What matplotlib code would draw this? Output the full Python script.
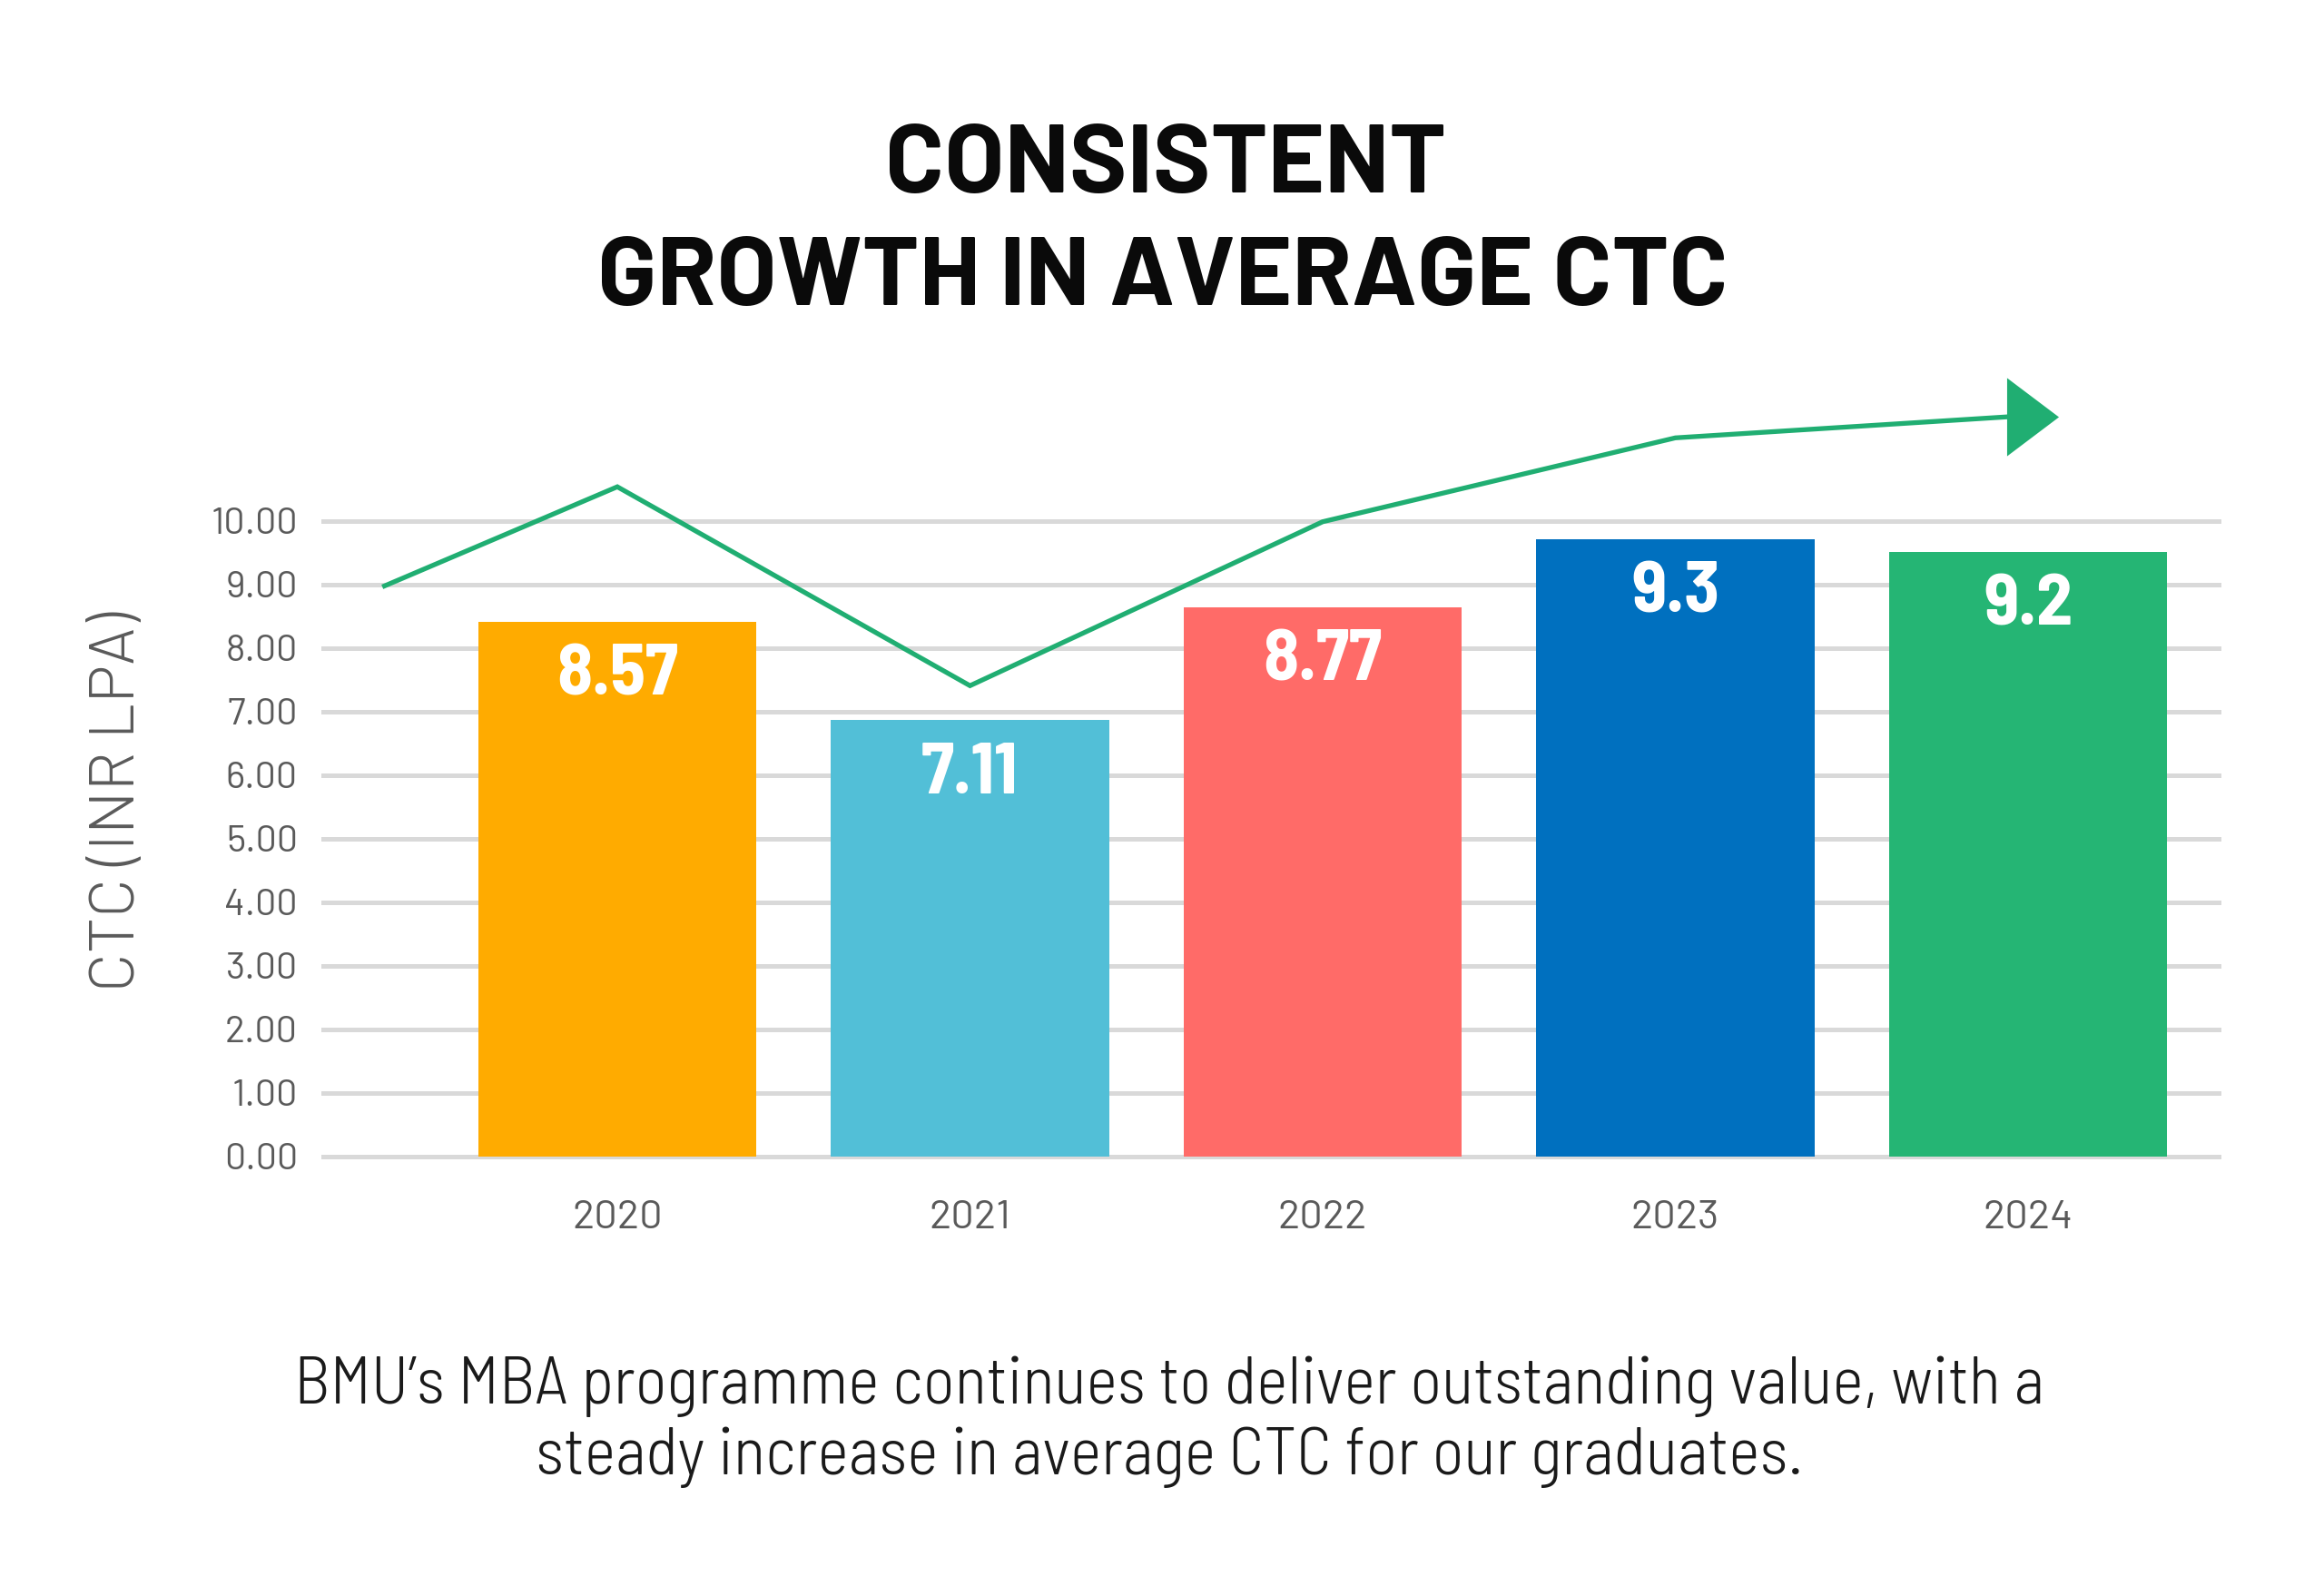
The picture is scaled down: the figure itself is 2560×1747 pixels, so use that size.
import matplotlib
matplotlib.use("Agg")
import matplotlib.pyplot as plt
from matplotlib import font_manager as fm
from matplotlib.transforms import ScaledTranslation

# ---------------- data ----------------
years = ["2020", "2021", "2022", "2023", "2024"]
bar_heights = [8.41, 6.87, 8.65, 9.72, 9.52]          # as drawn in the picture
bar_labels = ["8.57", "7.11", "8.77", "9.3", "9.2"]
bar_colors = ["#FFAB00", "#52BFD7", "#FF6B68", "#0070BF", "#25B574"]
y_ticks = [0, 1, 2, 3, 4, 5, 6, 7, 8, 9, 10]
trend_x = [-0.66, 0, 1, 2, 3, 3.94]
trend_y = [8.98, 10.54, 7.41, 9.99, 11.31, 11.64]

title_lines = ["CONSISTENT", "GROWTH IN AVERAGE CTC"]
subtitle_lines = ["BMU\u2019s MBA programme continues to deliver outstanding value, with a",
                  "steady increase in average CTC for our graduates."]
y_label = "CTC (INR LPA)"

# ---------------- fonts ----------------
available = {f.name for f in fm.fontManager.ttflist}
def pick(*cands):
    for c in cands:
        if c in available:
            return c
    return "DejaVu Sans"

f_title = pick("Barlow", "Barlow Semi Condensed", "Roboto Condensed", "Open Sans Condensed")
f_num = pick("Barlow Semi Condensed", "Barlow Condensed", "Roboto Condensed", "Oswald")
f_light = pick("Barlow", "Roboto", "Lato")
f_sub = pick("Barlow Semi Condensed", "Barlow", "Roboto", "Lato")

W, H = 2560, 1747
DPI = 200
fig = plt.figure(figsize=(W / DPI, H / DPI), dpi=DPI, facecolor="white")
renderer = fig.canvas.get_renderer()

def fit(s, family, weight, target_px):
    t = fig.text(0, 0, s, fontsize=20, family=family, fontweight=weight)
    w = t.get_window_extent(renderer).width
    t.remove()
    return 20.0 * target_px / w

def fx(px):
    return px / W

def fy(px):
    return 1 - px / H

# ---------------- axes ----------------
x0_px, x1_px = 354, 2447
y0_px, y1_px = 1284.5, 399
ax = fig.add_axes([fx(x0_px), fy(y0_px), fx(x1_px - x0_px), (y0_px - y1_px) / H])
ax.set_xlim((x0_px - 680) / 388.5, (x1_px - 680) / 388.5)
ax.set_ylim(-0.15, 12.5)
for s in ax.spines.values():
    s.set_visible(False)
ax.set_facecolor("none")

xs = list(range(len(years)))
ax.bar(xs, bar_heights, width=0.79, color=bar_colors, zorder=2)

ax.yaxis.grid(True, color="#d9d9d9", linewidth=1.8, zorder=0)
ax.set_axisbelow(True)

ytick_size = fit("10.00", f_light, 400, 96)
ax.set_yticks(y_ticks, labels=[f"{v:.2f}" for v in y_ticks], fontsize=ytick_size,
              family=f_light, fontweight=400, color="#5a5a5a")
xtick_size = fit("2020", f_light, 400, 100)
ax.set_xticks(xs, labels=years, fontsize=xtick_size, family=f_light,
              fontweight=400, color="#5a5a5a")
ax.tick_params(axis="y", length=0, pad=9.4)
ax.tick_params(axis="x", length=0, pad=13.5)

# bar value labels
lab_size = fit("8.57", f_num, "bold", 134)
for x, h, s in zip(xs, bar_heights, bar_labels):
    ax.text(x, h - 1.15, s, ha="center", va="baseline", color="white",
            fontsize=lab_size, family=f_num, fontweight="bold", zorder=4)

# trend line with arrow head
green = "#20AE72"
ax.plot(trend_x, trend_y, color=green, linewidth=1.9, solid_joinstyle="miter",
        zorder=3, clip_on=False)
head = [(-0.663, -1), (-0.663, 1), (0.663, 0), (-0.663, -1)]
offset = ScaledTranslation(28.5 / DPI, 0, fig.dpi_scale_trans)
ax.plot([trend_x[-1]], [trend_y[-1]], marker=head, markersize=31, color=green,
        markeredgewidth=0, linestyle="none", transform=ax.transData + offset,
        zorder=3, clip_on=False)

# ---------------- texts ----------------
t_size = fit(title_lines[1], f_title, "bold", 1246)
fig.text(fx(1284), fy(212), title_lines[0], ha="center", va="baseline",
         fontsize=t_size, family=f_title, fontweight="bold", color="#0a0a0a")
fig.text(fx(1281), fy(336), title_lines[1], ha="center", va="baseline",
         fontsize=t_size, family=f_title, fontweight="bold", color="#0a0a0a")

s_size = fit(subtitle_lines[0], f_sub, 300, 1928)
fig.text(fx(1288), fy(1546), subtitle_lines[0], ha="center", va="baseline",
         fontsize=s_size, family=f_sub, fontweight=300, color="#1a1a1a")
fig.text(fx(1288), fy(1624), subtitle_lines[1], ha="center", va="baseline",
         fontsize=s_size, family=f_sub, fontweight=300, color="#1a1a1a")

yl_size = fit(y_label, f_light, 300, 418)
fig.text(fx(131), fy(883), y_label, rotation=90, ha="center", va="center",
         fontsize=yl_size, family=f_light, fontweight=300, color="#5a5a5a")

fig.savefig("out.png", dpi=DPI, facecolor="white")
